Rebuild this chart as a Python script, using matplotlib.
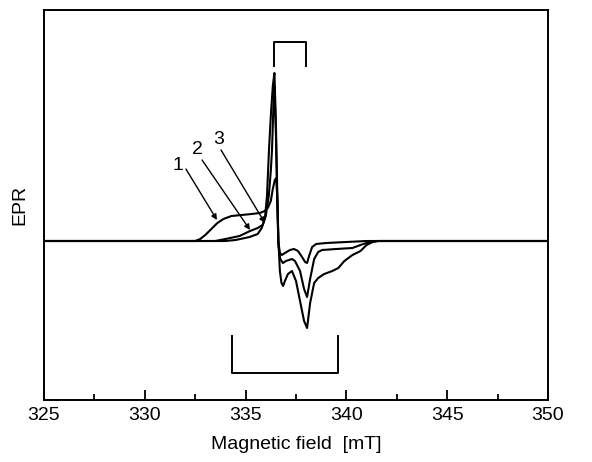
import matplotlib
matplotlib.use("Agg")
import matplotlib.pyplot as plt

plt.rcParams['font.family'] = ['Liberation Sans', 'DejaVu Sans']

# Magnetic field (mT) and EPR amplitude (arb. units)
field_1 = [325.0, 332.5, 332.75, 333.0, 333.3, 333.6, 333.9, 334.3, 334.8, 335.3, 335.7,
           335.95, 336.1, 336.25, 336.35, 336.45, 336.52, 336.58, 336.63, 336.7, 336.78,
           336.86, 336.95, 337.1, 337.3, 337.5, 337.75, 337.9, 338.05, 338.2, 338.4, 338.6,
           338.9, 339.3, 339.6, 339.9, 340.3, 340.7, 341.0, 341.3, 341.6, 350.0]
epr_1 = [0, 0, 2, 6, 12, 18, 22, 25, 26, 27, 28,
         30, 33, 40, 52, 61, 63, 40, 0, -30, -42,
         -45, -40, -33, -30, -40, -65, -80, -87, -62, -42, -37,
         -33, -30, -27, -20, -14, -10, -4, -1, 0, 0]

field_2 = [325.0, 333.5, 334.0, 334.7, 335.22, 335.6, 335.85, 336.0, 336.15, 336.25, 336.31,
           336.38, 336.43, 336.5, 336.57, 336.63, 336.72, 336.85, 337.0, 337.3, 337.45,
           337.7, 337.9, 338.05, 338.2, 338.4, 338.6, 338.8, 339.5, 340.3, 340.7, 341.0,
           341.5, 350.0]
epr_2 = [0, 0, 2, 5, 10, 13, 16, 25, 45, 70, 91,
         135, 155, 110, 40, -5, -18, -22, -20, -18, -20,
         -30, -48, -56, -38, -18, -11, -9, -8, -7, -4, -2,
         0, 0]

field_3 = [325.0, 334.0, 334.5, 335.2, 335.6, 335.8, 335.96, 336.06, 336.16, 336.25, 336.35,
           336.43, 336.5, 336.56, 336.62, 336.7, 336.8, 336.95, 337.2, 337.4, 337.6,
           337.8, 337.95, 338.05, 338.15, 338.3, 338.5, 339.0, 340.0, 341.0, 350.0]
epr_3 = [0, 0, 1, 4, 7, 13, 23, 45, 91, 125, 155,
         168, 120, 60, 0, -12, -14, -12, -9, -8, -10,
         -16, -21, -22, -15, -6, -3, -2, -1, 0, 0]

x_ticks = [325, 330, 335, 340, 345, 350]
curve_labels = ['1', '2', '3']
label_pos = [(331.65, 75), (332.59, 91), (333.68, 101)]
arrow_start = [(332.04, 72), (332.84, 81), (333.78, 91)]
arrow_tip = [(333.58, 21), (335.22, 11), (335.96, 18)]
top_bracket = (336.41, 338.0, 175, 199)
bottom_bracket = (334.33, 339.58, -95, -132)

fig = plt.figure(figsize=(5.92, 4.62), dpi=100)
ax = fig.add_axes([44/592, 62/462, 504/592, 390/462])

for f, e in [(field_1, epr_1), (field_2, epr_2), (field_3, epr_3)]:
    ax.plot(f, e, color='black', lw=1.5, solid_joinstyle='round')

for lab, p, s, t in zip(curve_labels, label_pos, arrow_start, arrow_tip):
    ax.text(p[0], p[1], lab, fontsize=14, ha='center', va='center')
    ax.annotate('', xy=t, xytext=s,
                arrowprops=dict(arrowstyle='-|>', color='black', lw=1.0,
                                mutation_scale=8, shrinkA=0, shrinkB=0))

x0, x1, y0, y1 = top_bracket
ax.plot([x0, x0, x1, x1], [y0, y1, y1, y0], color='black', lw=1.4)
x0, x1, y0, y1 = bottom_bracket
ax.plot([x0, x0, x1, x1], [y0, y1, y1, y0], color='black', lw=1.4)

ax.set_xlim(325, 350)
ax.set_ylim(-159, 231)
ax.set_xticks(x_ticks)
ax.set_xticks([327.5, 332.5, 337.5, 342.5, 347.5], minor=True)
ax.tick_params(axis='x', which='major', direction='in', length=7, width=1.3,
               labelsize=14, pad=5, top=False)
ax.tick_params(axis='x', which='minor', direction='in', length=4, width=1.3, top=False)
ax.set_yticks([])
for sp in ax.spines.values():
    sp.set_linewidth(1.4)

ax.set_xlabel('Magnetic field  [mT]', fontsize=14, labelpad=9)
ax.set_ylabel('EPR', fontsize=14, labelpad=11)

fig.savefig('out.png', dpi=100)
